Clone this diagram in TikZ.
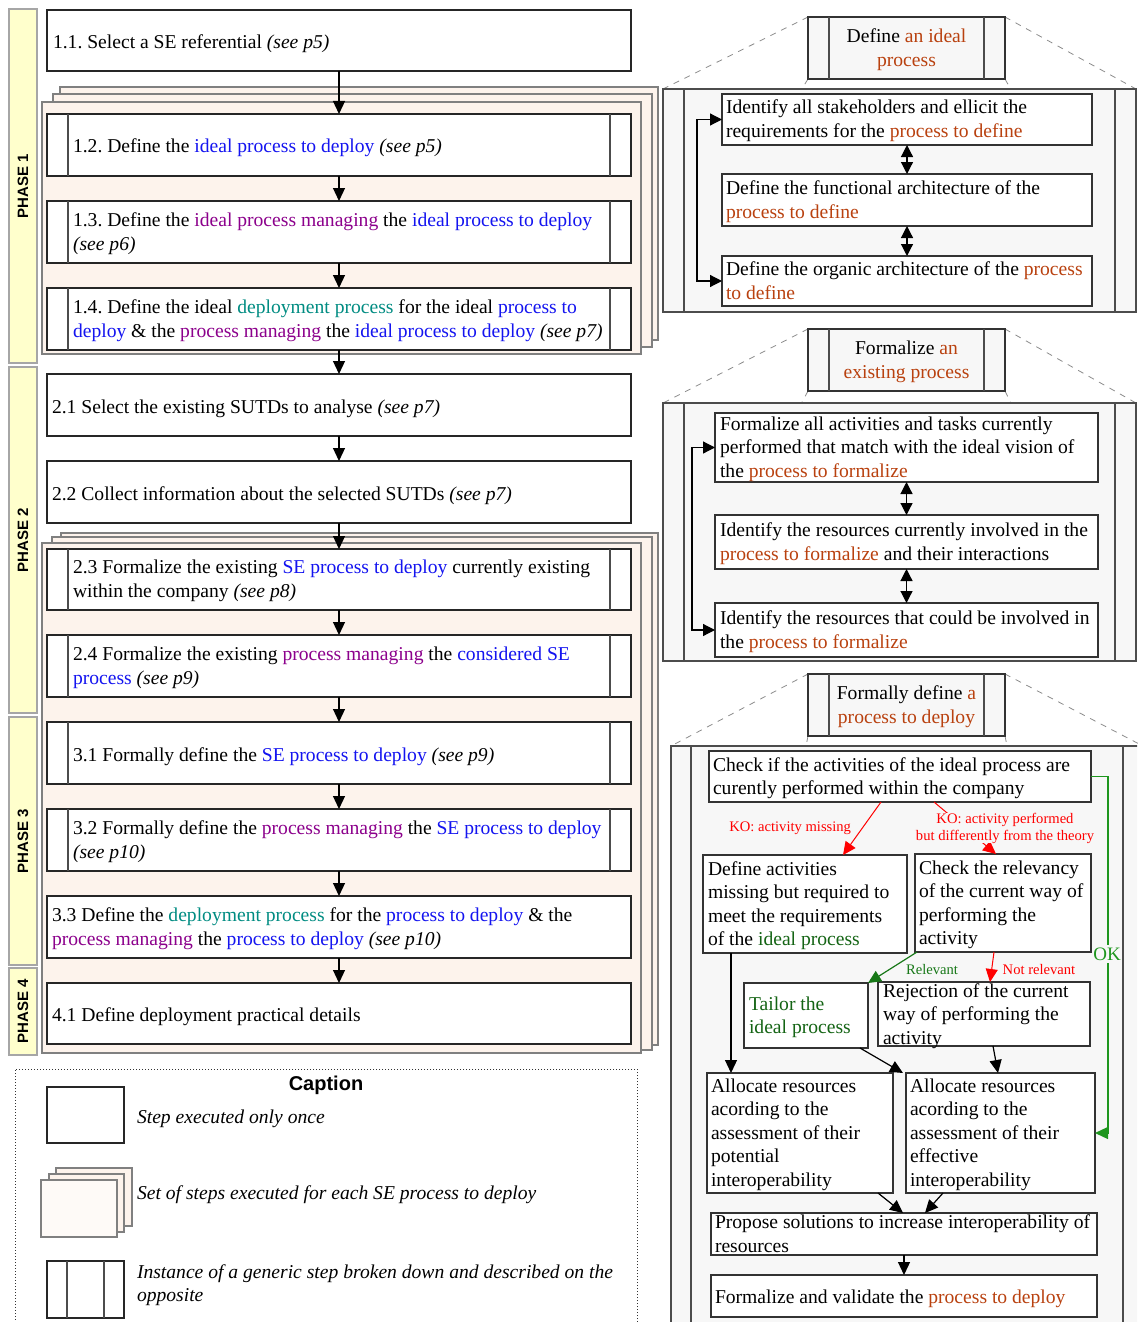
\documentclass[tikz,border=0pt]{standalone}
\usepackage{fontspec}
\setmainfont{Liberation Serif}
\setsansfont{Liberation Sans}
\usetikzlibrary{arrows.meta,fit,calc}
\definecolor{cblue}{RGB}{20,20,240}
\definecolor{cpurp}{RGB}{140,0,140}
\definecolor{cteal}{RGB}{0,140,130}
\definecolor{crust}{RGB}{185,65,15}
\definecolor{cdgreen}{RGB}{20,100,20}
\definecolor{cgreen}{RGB}{30,150,30}
\definecolor{cred}{RGB}{255,0,0}
\definecolor{phasefill}{RGB}{255,255,204}
\definecolor{stackfill}{RGB}{253,243,236}
\definecolor{panelfill}{RGB}{247,247,247}
\newcommand\Tb[1]{\textcolor{cblue}{#1}}
\newcommand\Tp[1]{\textcolor{cpurp}{#1}}
\newcommand\Tt[1]{\textcolor{cteal}{#1}}
\newcommand\Tr[1]{\textcolor{crust}{#1}}
\newcommand\Tg[1]{\textcolor{cdgreen}{#1}}
\newcommand\See[1]{\textit{(see #1)}}
\newcommand\ppl[2][10.5pt]{\draw[ppline] ([xshift=#1]#2.north west) -- ([xshift=#1]#2.south west) ([xshift=-#1]#2.north east) -- ([xshift=-#1]#2.south east);}
\pgfdeclarelayer{bg}
\pgfsetlayers{bg,main}
\frenchspacing
\begin{document}
\frenchspacing
\begin{tikzpicture}[x=0.5pt,y=-0.5pt,
  every node/.style={inner sep=0pt,outer sep=0pt},
  stepbox/.style={draw=black!85, line width=0.7pt, fill=white},
  subbox/.style={draw=black!80, line width=0.6pt, fill=white},
  stackfr/.style={draw=black!50, line width=0.9pt, fill=stackfill},
  phasebar/.style={draw=black!35, line width=0.8pt, fill=phasefill},
  phasetxt/.style={rotate=90, font=\sffamily\bfseries\fontsize{7.5}{9}\selectfont},
  panel/.style={draw=black!70, line width=0.6pt, fill=panelfill},
  hdr/.style={draw=black!80, line width=0.7pt, fill=panelfill},
  ppline/.style={draw=black!70, line width=0.6pt},
  txt/.style={anchor=west, align=left, yshift=-1.6pt, font=\fontsize{9.8}{12}\selectfont, execute at begin node=\strut, execute at end node=\strut},
  ptxt/.style={txt, font=\fontsize{9.8}{11.75}\selectfont},
  htxt/.style={align=center, yshift=-1.6pt, font=\fontsize{9.8}{12}\selectfont, execute at begin node=\strut, execute at end node=\strut},
  arr/.style={-{Triangle[length=6.5pt,width=6pt]}, line width=0.6pt},
  dbl/.style={{Triangle[length=6pt,width=6pt]}-{Triangle[length=6pt,width=6pt]}, line width=0.6pt},
  zoomline/.style={draw=black!45, dashed, line width=0.4pt},
  lbl/.style={font=\fontsize{7.3}{8.5}\selectfont, align=center, yshift=-1pt},
  capbox/.style={draw=black!80, densely dotted, line width=0.5pt}
]
\useasboundingbox (0,0) rectangle (1137,1322);
\begin{pgfonlayer}{bg}
\fill[white] (0,0) rectangle (1137,1322);
\end{pgfonlayer}
\clip (0,0) rectangle (1137,1322);

% ---------- phase bars
\node[phasebar, fit={(9,9)(37,363)}] (ph1) {};
\node[phasetxt] (ph1t) at (ph1.center) {PHASE 1};
\node[phasebar, fit={(9,367)(37,713)}] (ph2) {};
\node[phasetxt] (ph2t) at (ph2.center) {PHASE 2};
\node[phasebar, fit={(9,717)(37,965)}] (ph3) {};
\node[phasetxt] (ph3t) at (ph3.center) {PHASE 3};
\node[phasebar, fit={(9,968)(37,1055)}] (ph4) {};
\node[phasetxt] (ph4t) at (ph4.center) {PHASE 4};

% ---------- stacks
\node[stackfr, fit={(60,87)(658,340)}] (st1c) {};
\node[stackfr, fit={(53,94)(652,347)}] (st1b) {};
\node[stackfr, fit={(42,102)(641,354)}] (st1a) {};
\node[stackfr, fit={(61,533)(658,1045)}] (st2c) {};
\node[stackfr, fit={(52,537)(652,1050)}] (st2b) {};
\node[stackfr, fit={(42,543)(641,1053)}] (st2a) {};

% ---------- steps
\node[stepbox, fit={(47,10)(631,71)}] (s11) {};
\node[stepbox, fit={(47,114)(631,176)}] (s12) {};
\node[stepbox, fit={(47,201)(631,263)}] (s13) {};
\node[stepbox, fit={(47,288)(631,350)}] (s14) {};
\node[stepbox, fit={(47,374)(631,436)}] (s21) {};
\node[stepbox, fit={(47,461)(631,523)}] (s22) {};
\node[stepbox, fit={(47,549)(631,610)}] (s23) {};
\node[stepbox, fit={(47,635)(631,697)}] (s24) {};
\node[stepbox, fit={(47,722)(631,784)}] (s31) {};
\node[stepbox, fit={(47,809)(631,871)}] (s32) {};
\node[stepbox, fit={(47,896)(631,958)}] (s33) {};
\node[stepbox, fit={(47,983)(631,1044)}] (s41) {};
\ppl{s12}\ppl{s13}\ppl{s14}\ppl{s23}\ppl{s24}\ppl{s31}\ppl{s32}

\foreach \a/\b in {s11/s12,s12/s13,s13/s14,s14/s21,s21/s22,s22/s23,s23/s24,s24/s31,s31/s32,s32/s33,s33/s41}
  \draw[arr] (\a.south) -- (\b.north);

\node[txt] (t11) at ([xshift=3pt]s11.west) {1.1. Select a SE referential \See{p5}};
\node[txt] (t12) at ([xshift=13pt]s12.west) {1.2. Define the \Tb{ideal process to deploy} \See{p5}};
\node[txt] (t13) at ([xshift=13pt]s13.west) {1.3. Define the \Tp{ideal process managing} the \Tb{ideal process to deploy}\\\See{p6}};
\node[txt] (t14) at ([xshift=13pt]s14.west) {1.4. Define the ideal \Tt{deployment process} for the ideal \Tb{process to}\\\Tb{deploy} \& the \Tp{process managing} the \Tb{ideal process to deploy} \See{p7}};
\node[txt] (t21) at ([xshift=2.5pt]s21.west) {2.1 Select the existing SUTDs to analyse \See{p7}};
\node[txt] (t22) at ([xshift=2.5pt]s22.west) {2.2 Collect information about the selected SUTDs \See{p7}};
\node[txt] (t23) at ([xshift=13pt]s23.west) {2.3 Formalize the existing \Tb{SE process to deploy} currently existing\\within the company \See{p8}};
\node[txt] (t24) at ([xshift=13pt]s24.west) {2.4 Formalize the existing \Tp{process managing} the \Tb{considered SE}\\\Tb{process} \See{p9}};
\node[txt] (t31) at ([xshift=13pt]s31.west) {3.1 Formally define the \Tb{SE process to deploy} \See{p9}};
\node[txt] (t32) at ([xshift=13pt]s32.west) {3.2 Formally define the \Tp{process managing} the \Tb{SE process to deploy}\\\See{p10}};
\node[txt] (t33) at ([xshift=2.5pt]s33.west) {3.3 Define the \Tt{deployment process} for the \Tb{process to deploy} \& the\\\Tp{process managing} the \Tb{process to deploy} \See{p10}};
\node[txt] (t41) at ([xshift=2.5pt]s41.west) {4.1 Define deployment practical details};

% ---------- caption
\node[capbox, fit={(15,1069)(637,1345)}] (cap) {};
\node[font=\sffamily\bfseries\fontsize{10}{12}\selectfont] (capt) at (326,1085) {Caption};
\node[stepbox, line width=0.6pt, fit={(47,1087)(124,1143)}] (cap1) {};
\node[stackfr, line width=0.7pt, fit={(56,1168)(132,1226)}] (cap2c) {};
\node[stackfr, line width=0.7pt, fit={(49,1174)(124,1232)}] (cap2b) {};
\node[stackfr, line width=0.7pt, fill=stackfill!40, fit={(41,1180)(117,1237)}] (cap2a) {};
\node[stepbox, line width=0.6pt, fit={(47,1261)(124,1318)}] (cap3) {};
\ppl[10pt]{cap3}
\node[txt, font=\fontsize{9.8}{12}\selectfont\itshape] (cap1t) at (137,1115) {Step executed only once};
\node[txt, font=\fontsize{9.8}{12}\selectfont\itshape] (cap2t) at (137,1191) {Set of steps executed for each SE process to deploy};
\node[txt, font=\fontsize{9.8}{11.5}\selectfont\itshape] (cap3t) at (137,1283.5) {Instance of a generic step broken down and described on the\\opposite};

% ---------- panel 1
\node[panel, fit={(663,89)(1136,312)}] (p1) {};
\node[hdr, fit={(808,17)(1005,79)}] (h1) {};
\ppl{p1}\ppl{h1}
\node[htxt] (h1t) at (h1.center) {Define \Tr{an ideal}\\\Tr{process}};
\node[subbox, fit={(722,94)(1092,145)}] (p1a) {};
\node[subbox, fit={(722,174)(1092,226)}] (p1b) {};
\node[subbox, fit={(722,256)(1092,306)}] (p1c) {};
\draw[dbl] (p1a.south) -- (p1b.north);
\draw[dbl] (p1b.south) -- (p1c.north);
\draw[dbl] (p1a.west) -- ++(-25,0) |- (p1c.west);
\node[txt] (p1at) at ([xshift=2pt]p1a.west) {Identify all stakeholders and ellicit the\\requirements for the \Tr{process to define}};
\node[txt] (p1bt) at ([xshift=2pt]p1b.west) {Define the functional architecture of the\\\Tr{process to define}};
\node[txt] (p1ct) at ([xshift=2pt]p1c.west) {Define the organic architecture of the \Tr{process}\\\Tr{to define}};

% ---------- panel 2
\node[panel, fit={(663,403)(1136,661)}] (p2) {};
\node[hdr, fit={(808,329)(1005,391)}] (h2) {};
\ppl{p2}\ppl{h2}
\node[htxt] (h2t) at (h2.center) {Formalize \Tr{an}\\\Tr{existing process}};
\node[subbox, fit={(715,413)(1098,482)}] (p2a) {};
\node[subbox, fit={(715,515)(1098,569)}] (p2b) {};
\node[subbox, fit={(715,603)(1098,657)}] (p2c) {};
\draw[dbl] (p2a.south) -- (p2b.north);
\draw[dbl] (p2b.south) -- (p2c.north);
\draw[dbl] (p2a.west) -- ++(-23,0) |- (p2c.west);
\node[ptxt] (p2at) at ([xshift=2.5pt]p2a.west) {Formalize all activities and tasks currently\\performed that match with the ideal vision of\\the \Tr{process to formalize}};
\node[ptxt] (p2bt) at ([xshift=2.5pt]p2b.west) {Identify the resources currently involved in the\\\Tr{process to formalize} and their interactions};
\node[ptxt] (p2ct) at ([xshift=2.5pt]p2c.west) {Identify the resources that could be involved in\\the \Tr{process to formalize}};

% ---------- panel 3
\node[panel, fit={(671,746)(1143,1422)}] (p3) {};
\node[hdr, fit={(808,674)(1005,736)}] (h3) {};
\ppl[10pt]{p3}\ppl{h3}
\node[htxt] (h3t) at (h3.center) {Formally define \Tr{a}\\\Tr{process to deploy}};
\node[subbox, fit={(709,751)(1091,802)}] (chk) {};
\node[subbox, fit={(703,855)(907,953)}] (def) {};
\node[subbox, fit={(915,854)(1091,952)}] (rel) {};
\node[subbox, fit={(744,983)(868,1048)}] (tai) {};
\node[subbox, fit={(878,982)(1090,1046)}] (rej) {};
\node[subbox, fit={(707,1073)(893,1193)}] (all) {};
\node[subbox, fit={(906,1073)(1095,1193)}] (alr) {};
\node[subbox, fit={(711,1213)(1097,1255)}] (pro) {};
\node[subbox, fit={(711,1275)(1097,1317)}] (frm) {};

\draw[arr, draw=cred, line width=0.5pt] ([xshift=-9.5pt]chk.south) -- ([xshift=19pt]def.north);
\draw[arr, draw=cred, line width=0.5pt] ([xshift=17pt]chk.south) -- ([xshift=-3.5pt]rel.north);
\draw[arr, draw=cgreen] (chk.east) -- ++(17,0) |- (alr.east);
\draw[arr, draw=cgreen!80!black] ([xshift=1pt]rel.south west) -- (tai.north east);
\draw[arr, draw=cred, line width=0.5pt] ([xshift=-4.5pt]rel.south) -- ([xshift=3pt]rej.north);
\draw[arr] ([xshift=-37pt]def.south) -- ([xshift=-37pt]def.south |- all.north);
\draw[arr] ([xshift=27pt]tai.south) -- ([xshift=-1.5pt]alr.north west);
\draw[arr] ([xshift=4.5pt]rej.south) -- ([xshift=-1.25pt]alr.north);
\draw[arr] ([xshift=39pt]all.south) -- ([xshift=-0.5pt]pro.north);
\draw[arr] ([xshift=-28.75pt]alr.south) -- ([xshift=10.5pt]pro.north);
\draw[arr] (pro.south) -- (frm.north);

\node[lbl, text=cred, anchor=east] (ko1) at (851,826) {KO: activity missing};
\node[lbl, text=cred, fill=panelfill] (ko2) at (1005,826) {KO: activity performed\\but differently from the theory};
\node[lbl, text=cgreen!80!black] (rlv) at (932,967) {Relevant};
\node[lbl, text=cred] (nrl) at (1039,967) {Not relevant};
\node[font=\fontsize{9.5}{11}\selectfont, text=cgreen, fill=panelfill, inner ysep=1.5pt] (okl) at (1107,954) {OK};

\node[ptxt] (chkt) at ([xshift=2pt]chk.west) {Check if the activities of the ideal process are\\curently performed within the company};
\node[ptxt] (deft) at ([xshift=2.5pt]def.west) {Define activities\\missing but required to\\meet the requirements\\of the \Tg{ideal process}};
\node[ptxt] (relt) at ([xshift=2pt]rel.west) {Check the relevancy\\of the current way of\\performing the\\activity};
\node[ptxt] (tait) at ([xshift=2.5pt]tai.west) {\Tg{Tailor the}\\\Tg{ideal process}};
\node[ptxt] (rejt) at ([xshift=2.5pt]rej.west) {Rejection of the current\\way of performing the\\activity};
\node[ptxt] (allt) at ([xshift=2pt]all.west) {Allocate resources\\acording to the\\assessment of their\\potential\\interoperability};
\node[ptxt] (alrt) at ([xshift=2pt]alr.west) {Allocate resources\\acording to the\\assessment of their\\effective\\interoperability};
\node[ptxt] (prot) at ([xshift=2pt]pro.west) {Propose solutions to increase interoperability of\\resources};
\node[ptxt] (frmt) at ([xshift=2pt]frm.west) {Formalize and validate the \Tr{process to deploy}};

% ---------- zoom lines (behind)
\begin{pgfonlayer}{bg}
\draw[zoomline] (h1.north west) -- (p1.north west) (h1.north east) -- (p1.north east)
  (h1.south west) -- (p1.south west) (h1.south east) -- (p1.south east);
\draw[zoomline] (h2.north west) -- (p2.north west) (h2.north east) -- (p2.north east)
  (h2.south west) -- (p2.south west) (h2.south east) -- (p2.south east);
\draw[zoomline] (h3.north west) -- (p3.north west) (h3.north east) -- (p3.north east)
  (h3.south west) -- (p3.south west) (h3.south east) -- (p3.south east);
\end{pgfonlayer}
\end{tikzpicture}
\end{document}
